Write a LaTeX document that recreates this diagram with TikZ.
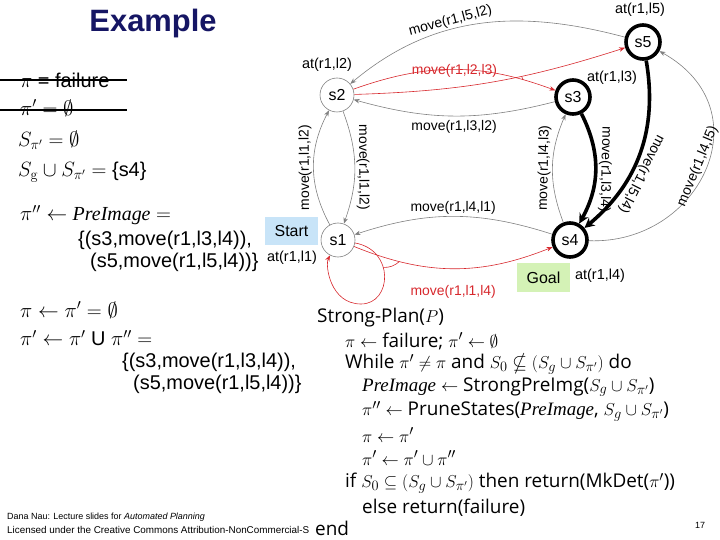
\documentclass[tikz,border=0pt]{standalone}
\usepackage{amssymb}
\usepackage[no-math]{fontspec}
\setmainfont{Liberation Sans}
\newfontfamily\algofont{Open Sans}
\newfontfamily\serifont{Liberation Serif}
\usetikzlibrary{arrows.meta}

\definecolor{titleblue}{RGB}{22,22,100}
\definecolor{arcgray}{RGB}{128,128,128}
\definecolor{arcred}{RGB}{215,40,45}
\definecolor{startblue}{RGB}{200,228,248}
\definecolor{goalgreen}{RGB}{212,242,182}

\newcommand{\preimg}{{\serifont\itshape PreImage}}

\tikzset{
  state/.style={circle, draw=arcgray, line width=0.6bp, minimum size=34bp,
    inner sep=0pt, font=\fontsize{16}{16}\selectfont},
  planstate/.style={state, draw=black, line width=3.6bp},
  grayarc/.style={draw=arcgray, line width=0.6bp, -{Stealth[length=6bp,width=4.5bp]}},
  redarc/.style={draw=arcred, line width=0.6bp, -{Stealth[length=6bp,width=4.5bp]}},
  planarc/.style={draw=black, line width=3.6bp, -{Stealth[length=10bp,width=10bp]}},
  arclabel/.style={font=\fontsize{14}{14}\selectfont, inner sep=1.5bp},
  atlabel/.style={font=\fontsize{14.5}{14.5}\selectfont, inner sep=0pt},
  tagbox/.style={minimum width=53bp, minimum height=28bp, inner sep=0pt,
    font=\fontsize{16}{16}\selectfont},
  slidetext/.style={font=\fontsize{20}{24}\selectfont, anchor=west, inner sep=0pt},
  algoline/.style={font=\algofont\fontsize{19}{22}\selectfont, anchor=west, inner sep=0pt},
  footer/.style={font=\fontsize{9}{10}\selectfont, anchor=west, inner sep=0pt},
  strike/.style={line width=1.8bp}
}

\begin{document}
\begin{tikzpicture}[x=1bp, y=1bp]
  \useasboundingbox (0,0) rectangle (720,-540);

  % Title
  \node[font=\bfseries\fontsize{31}{31}\selectfont, text=titleblue] (title) at (153,-24) {Example};

  % States
  \node[state] (s2) at (337,-95) {s2};
  \node[state] (s1) at (338,-240) {s1};
  \node[planstate] (s5) at (643,-42) {s5};
  \node[planstate] (s3) at (573,-97) {s3};
  \node[planstate] (s4) at (570,-240) {s4};
  \coordinate (loopfoot) at (361,-304);

  % What holds in each state
  \node[atlabel] (at2) at (327,-65) {at(r1,l2)};
  \node[atlabel] (at1) at (292,-258) {at(r1,l1)};
  \node[atlabel] (at5) at (640,-10) {at(r1,l5)};
  \node[atlabel] (at3) at (612,-78) {at(r1,l3)};
  \node[atlabel] (at4) at (600,-276) {at(r1,l4)};
  \node[tagbox, fill=startblue] (start) at (291.5,-231.5) {Start};
  \node[tagbox, fill=goalgreen] (goal) at (543.5,-277.5) {Goal};

  % Actions
  \draw[grayarc] (s5) to[out=165, in=40]
    node[arclabel, sloped, above, pos=0.6] {move(r1,l5,l2)} (s2);
  \draw[redarc] (s2) to[bend right=8] coordinate[pos=0.62] (and5) (s5);
  \draw[redarc] (s2) to[bend left=20] coordinate[pos=0.85] (and3)
    node[arclabel, text=arcred, above=-10bp, pos=0.5] {move(r1,l2,l3)} (s3);
  \draw[arcred, line width=0.6bp] (and5) to[bend left=25] (and3);
  \draw[grayarc] (s3) to[bend left=15]
    node[arclabel, below=3bp, pos=0.5] {move(r1,l3,l2)} (s2);
  \draw[grayarc] (s1) to[bend left=28]
    node[arclabel, sloped, allow upside down, above] {move(r1,l1,l2)} (s2);
  \draw[grayarc] (s2) to[bend left=20]
    node[arclabel, sloped, allow upside down, above] {move(r1,l1,l2)} (s1);
  \draw[grayarc] (s4) to[bend right=18]
    node[arclabel, above] {move(r1,l4,l1)} (s1);
  \draw[redarc] (s1) to[bend right=22] coordinate[pos=0.22] (and4)
    node[arclabel, text=arcred, below=15bp] {move(r1,l1,l4)} (s4);
  \draw[redarc] (s1) .. controls (395,-250) and (392,-304) .. (loopfoot)
    coordinate[pos=0.4] (andloop)
    .. controls (330,-304) and (325,-265) .. (s1);
  \draw[arcred, line width=0.6bp] (and4) to[bend left=20] (andloop);
  \draw[grayarc] (s4) to[bend left=22]
    node[arclabel, sloped, allow upside down, above] {move(r1,l4,l3)} (s3);
  \draw[planarc] (s3) to[bend left=28]
    node[arclabel, sloped, allow upside down, above] {move(r1,l3,l4)} (s4);
  \draw[planarc] (s5) to[bend left=30]
    node[arclabel, sloped, allow upside down, above, pos=0.6] {move(r1,l5,l4)} (s4);
  \draw[grayarc] (s4) .. controls (700,-245) and (765,-110) .. (s5)
    node[arclabel, sloped, above, pos=0.5] {move(r1,l4,l5)};

  % Trace of the first iteration
  \node[slidetext] (oldpi) at (20,-80) {$\pi$ = failure};
  \draw[strike] (oldpi.west) ++(-20,0) -- ++(127,0);
  \node[slidetext] (oldpiprime) at (20,-108) {$\pi' = \emptyset$};
  \draw[strike] (oldpiprime.west) ++(-20,-2) -- ++(127,0);
  \node[slidetext] (spi) at (18,-140) {$S_{\pi'} = \emptyset$};
  \node[slidetext] (sgspi) at (18,-172) {$S_\mathrm{g} \cup S_{\pi'} =$ \{s4\}};
  \node[slidetext] (preimage) at (20,-215) {$\pi'' \leftarrow$ \preimg{} $=$};
  \node[slidetext] (preimagea) at (78,-240) {\{(s3,move(r1,l3,l4)),};
  \node[slidetext] (preimageb) at (90,-262) {(s5,move(r1,l5,l4))\}};
  \node[slidetext] (pinew) at (20,-310) {$\pi \leftarrow \pi' = \emptyset$};
  \node[slidetext] (piprimenew) at (20,-338) {$\pi' \leftarrow \pi'$ U $\pi'' =$};
  \node[slidetext] (piprimea) at (122,-362) {\{(s3,move(r1,l3,l4)),};
  \node[slidetext] (piprimeb) at (133,-384) {(s5,move(r1,l5,l4))\}};

  % Algorithm
  \node[algoline] (alg0) at (317,-318) {Strong-Plan($P$)};
  \node[algoline] (alg1) at (345,-341) {$\pi \leftarrow$ failure; $\pi' \leftarrow \emptyset$};
  \node[algoline] (alg2) at (345,-364) {While $\pi' \neq \pi$ and $S_0 \nsubseteq (S_g \cup S_{\pi'})$ do};
  \node[algoline] (alg3) at (362,-387) {\preimg{} $\leftarrow$ StrongPreImg($S_g \cup S_{\pi'}$)};
  \node[algoline] (alg4) at (362,-411) {$\pi'' \leftarrow$ PruneStates(\preimg, $S_g \cup S_{\pi'}$)};
  \node[algoline] (alg5) at (362,-435) {$\pi \leftarrow \pi'$};
  \node[algoline] (alg6) at (362,-458) {$\pi' \leftarrow \pi' \cup \pi''$};
  \node[algoline] (alg7) at (345,-483) {if $S_0 \subseteq (S_g \cup S_{\pi'})$ then return(MkDet($\pi'$))};
  \node[algoline] (alg8) at (362,-508) {else return(failure)};
  \node[algoline] (alg9) at (315,-528) {end};

  % Footer
  \node[footer] (credit) at (7,-517) {Dana Nau: Lecture slides for \textit{Automated Planning}};
  \node[footer, font=\fontsize{9.9}{11}\selectfont] (licence) at (7,-530)
    {Licensed under the Creative Commons Attribution-NonCommercial-S};
  \node[footer] (page) at (695,-525) {17};
\end{tikzpicture}
\end{document}
